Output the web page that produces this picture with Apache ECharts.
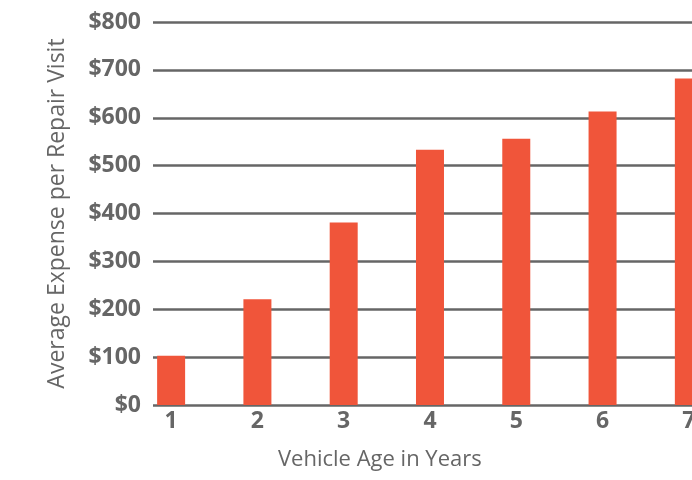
<!DOCTYPE html>
<html>
<head>
<meta charset="utf-8">
<script src="https://cdn.jsdelivr.net/npm/echarts@6/dist/echarts.min.js"></script>
<style>
  html, body { margin: 0; padding: 0; overflow: hidden; background: #fff; }
  #main { width: 760px; height: 480px; }
</style>
</head>
<body>
<div id="main"></div>
<script>
var ages = [1, 2, 3, 4, 5, 6, 7];
var expense = [103, 221, 381, 533, 556, 613, 682];
var yTicks = [0, 100, 200, 300, 400, 500, 600, 700, 800];

var myChart = echarts.init(document.getElementById('main'));
var font = '"Open Sans", sans-serif';
var option = {
  animation: false,
  grid: {
    top: 22,
    left: 153,
    right: 28,
    bottom: 75
  },
  xAxis: {
    type: 'value',
    min: 0.79,
    max: 7.5,
    splitNumber: 7,
    minInterval: 1,
    axisLine: { show: false },
    axisTick: { show: false },
    splitLine: { show: false },
    axisLabel: {
      color: '#666',
      fontFamily: font,
      fontWeight: 'bold',
      fontSize: 23,
      margin: 5,
      showMinLabel: false,
      showMaxLabel: false,
      formatter: function (v) {
        return ages.indexOf(v) >= 0 ? String(v) : '';
      }
    }
  },
  yAxis: {
    type: 'value',
    min: 0,
    max: yTicks[yTicks.length - 1],
    interval: 100,
    name: 'Average Expense per Repair Visit',
    nameLocation: 'middle',
    nameGap: 84,
    nameTextStyle: {
      color: '#666',
      fontFamily: font,
      fontSize: 23
    },
    axisLine: { show: false },
    axisTick: { show: false },
    axisLabel: {
      color: '#666',
      fontFamily: font,
      fontWeight: 'bold',
      fontSize: 23,
      margin: 12,
      formatter: function (v) { return '$' + v; }
    },
    splitLine: {
      lineStyle: { color: '#666', width: 2.5 }
    }
  },
  graphic: [{
    type: 'text',
    left: 278,
    top: 449,
    style: {
      text: 'Vehicle Age in Years',
      fill: '#666',
      font: '22px "Open Sans", sans-serif'
    }
  }],
  series: [{
    type: 'bar',
    barWidth: 28,
    data: ages.map(function (a, i) { return [a, expense[i]]; }),
    itemStyle: { color: '#f0553a' },
    z: 3
  }]
};
myChart.setOption(option);
</script>
</body>
</html>
